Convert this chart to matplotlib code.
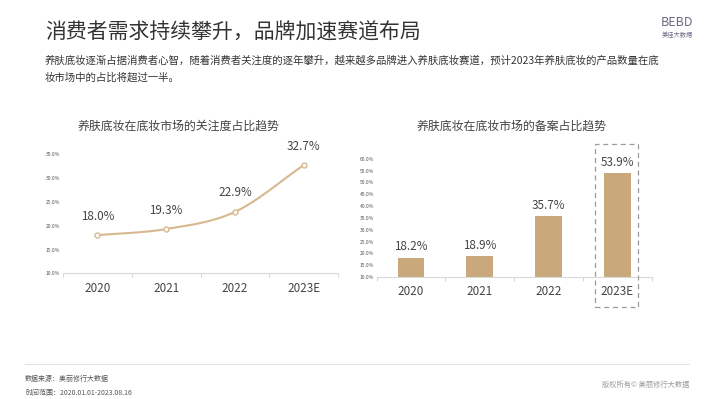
import matplotlib
matplotlib.use("Agg")
import matplotlib.pyplot as plt
from matplotlib.patches import Rectangle
import numpy as np

plt.rcParams["font.family"] = ["Noto Sans CJK SC", "DejaVu Sans"]

W, H = 710, 399

years = ["2020", "2021", "2022", "2023E"]
attention_share = [18.0, 19.3, 22.9, 32.7]
filing_share = [18.2, 18.9, 35.7, 53.9]

title = "消费者需求持续攀升，品牌加速赛道布局"
subtitle_1 = "养肤底妆逐渐占据消费者心智，随着消费者关注度的逐年攀升，越来越多品牌进入养肤底妆赛道，预计2023年养肤底妆的产品数量在底"
subtitle_2 = "妆市场中的占比将超过一半。"
left_title = "养肤底妆在底妆市场的关注度占比趋势"
right_title = "养肤底妆在底妆市场的备案占比趋势"

TAN_LINE = "#d7b88f"
TAN_BAR = "#c9a87c"
TXT = "#444444"


def px(x, y):
    return x / W, 1 - y / H


def box(x0, y_top, x1, y_bot):
    return [x0 / W, 1 - y_bot / H, (x1 - x0) / W, (y_bot - y_top) / H]


def smooth(xs, ys, n=40):
    # cubic hermite through the points, catmull-rom tangents
    xs = np.asarray(xs, float)
    ys = np.asarray(ys, float)
    m = np.gradient(ys, xs)
    out_x, out_y = [], []
    for i in range(len(xs) - 1):
        t = np.linspace(0, 1, n)
        h = xs[i + 1] - xs[i]
        h00 = 2 * t**3 - 3 * t**2 + 1
        h10 = t**3 - 2 * t**2 + t
        h01 = -2 * t**3 + 3 * t**2
        h11 = t**3 - t**2
        out_x.append(xs[i] + t * h)
        out_y.append(h00 * ys[i] + h10 * h * m[i] + h01 * ys[i + 1] + h11 * h * m[i + 1])
    return np.concatenate(out_x), np.concatenate(out_y)


def style_axis(ax, ymin, ymax, step):
    ax.set_xlim(-0.5, len(years) - 0.5)
    ax.set_ylim(ymin, ymax)
    for s in ["top", "right", "left"]:
        ax.spines[s].set_visible(False)
    ax.spines["bottom"].set_color("#d9d9d9")
    ax.spines["bottom"].set_linewidth(0.8)
    ax.set_yticks(np.arange(ymin, ymax + 0.01, step))
    ax.set_yticklabels([f"{v:.1f}%" for v in np.arange(ymin, ymax + 0.01, step)],
                       fontsize=3.6, color="#555555")
    ax.tick_params(axis="y", length=0, pad=2)
    ax.set_xticks(range(len(years)))
    ax.set_xticklabels(years, fontsize=8.4, color=TXT)
    ax.tick_params(axis="x", length=0, pad=6)
    ax.set_xticks(np.arange(-0.5, len(years), 1), minor=True)
    ax.tick_params(axis="x", which="minor", length=3, color="#d9d9d9", width=0.8)
    ax.patch.set_alpha(0)


fig = plt.figure(figsize=(W / 100, H / 100), dpi=100)

fig.text(*px(45, 33), title, fontsize=15, color="#333333", va="center", ha="left")
fig.text(*px(45, 61), subtitle_1, fontsize=7.5, color="#333333", va="center", ha="left", weight="medium")
fig.text(*px(45, 78), subtitle_2, fontsize=7.5, color="#333333", va="center", ha="left", weight="medium")

fig.text(*px(677, 23), "BEBD", fontsize=9, color="#6e6a86", va="center", ha="center")
fig.text(*px(677, 35), "美佳大数据", fontsize=4.5, color="#6e6a86", va="center", ha="center")

fig.text(*px(179, 126), left_title, fontsize=8.6, color=TXT, va="center", ha="center", weight="medium")
fig.text(*px(512, 126), right_title, fontsize=8.6, color=TXT, va="center", ha="center", weight="medium")

# left: line chart
ax1 = fig.add_axes(box(63, 154.3, 338, 273.3))
style_axis(ax1, 10, 35, 5)
idx = np.arange(len(years))
sx, sy = smooth(idx, attention_share)
ax1.plot(sx, sy, color=TAN_LINE, lw=1.5, zorder=2, clip_on=False)
ax1.plot(idx, attention_share, "o", ms=3.6, mfc="white", mec=TAN_LINE, mew=1.0, zorder=3, clip_on=False)
for i, v in enumerate(attention_share):
    ax1.annotate(f"{v:.1f}%", (i, v), xytext=(0, 9), textcoords="offset points",
                 ha="center", va="bottom", fontsize=8.4, color=TXT)

# right: bar chart
ax2 = fig.add_axes(box(376.7, 158.7, 651.7, 277))
style_axis(ax2, 10, 60, 5)
base = 10
ax2.bar(idx, [v - base for v in filing_share], bottom=base, width=0.39, color=TAN_BAR, zorder=2)
for i, v in enumerate(filing_share):
    ax2.annotate(f"{v:.1f}%", (i, v), xytext=(0, 3), textcoords="offset points",
                 ha="center", va="bottom", fontsize=8.4, color=TXT)

x0, y0 = px(595, 307)
x1, y1 = px(638, 144)
fig.patches.append(Rectangle((x0, y0), x1 - x0, y1 - y0, transform=fig.transFigure,
                             fill=False, ec="#9a9a9a", lw=0.9, ls=(0, (4, 3))))

# footer
fig.add_artist(plt.Line2D([25 / W, 689 / W], [1 - 363.5 / H] * 2, color="#e3e3e3", lw=0.8))
fig.text(*px(25, 379), "数据来源：美丽修行大数据", fontsize=5, color="#555555", va="center", ha="left")
fig.text(*px(25, 393), "时间范围：2020.01.01-2023.08.16", fontsize=5, color="#555555", va="center", ha="left")
fig.text(*px(689, 385), "版权所有© 美丽修行大数据", fontsize=5.2, color="#9a9a9a", va="center", ha="right")

fig.savefig("out.png", dpi=100, facecolor="white")
